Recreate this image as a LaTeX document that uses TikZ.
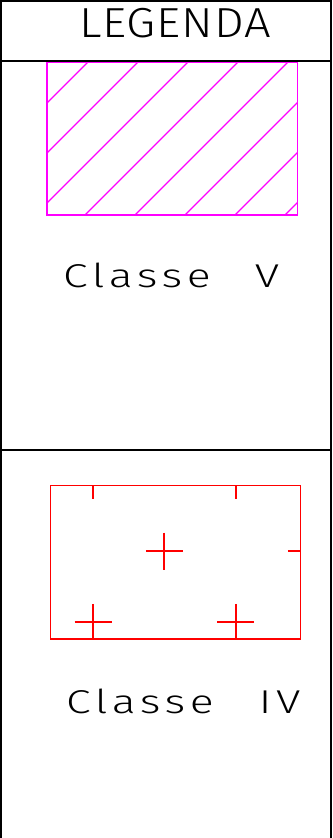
\documentclass[tikz,border=0pt]{standalone}
\usepackage{fontspec}
\newfontfamily\cadfont{Fira Sans Light}[FakeStretch=1.35]
\newfontfamily\cadtitlefont{Fira Sans Light}[FakeStretch=1.12]
\usepackage{tikz}
\usetikzlibrary{positioning,calc}
\definecolor{cadMagenta}{RGB}{255,0,255}
\definecolor{cadRed}{RGB}{255,0,0}

\begin{document}
\begin{tikzpicture}[x=1pt, y=-1pt,
    framestroke/.style={line width=1.6pt},
    cadtext/.style={font=\cadfont\addfontfeature{LetterSpace=14}\fontsize{33}{33}\selectfont, inner sep=0pt, anchor=base west},
    hatchstroke/.style={line width=1.3pt}]
    \useasboundingbox (0,0) rectangle (332,838);

    % Classe V: magenta hatch
    \begin{scope}
        \clip (47,62) rectangle (297.5,215);
        \foreach \c in {150,200,...,500}
            \draw[hatchstroke, draw=cadMagenta] (\c-250,250) -- (\c,0);
    \end{scope}
    \draw[hatchstroke, draw=cadMagenta] (47,62) rectangle (297.5,215);

    % Classe IV: red crosses
    \begin{scope}
        \clip (50.7,485.7) rectangle (300.7,639);
        \foreach \x/\y in {93/480, 235.7/480, 164.3/551, 306.3/551, 93/622.3, 235.7/622.3}
            \draw[hatchstroke, line width=1.7pt, draw=cadRed] (\x-18.5,\y) -- (\x+18.5,\y) (\x,\y-18.5) -- (\x,\y+18.5);
    \end{scope}
    \draw[hatchstroke, line width=1.5pt, draw=cadRed] (50.7,485.7) rectangle (300.7,639);

    % Frame
    \draw[framestroke] (1,838) -- (1,1) -- (331,1) -- (331,838);
    \draw[framestroke] (1,61) -- (331,61);
    \draw[framestroke] (1,450) -- (331,450);

    % Labels
    \node[cadtext, font=\cadtitlefont\addfontfeature{LetterSpace=2}\fontsize{42}{42}\selectfont] (title) at (79,37) {LEGENDA};
    \node[cadtext] (classV) at (63,287) {Classe\hspace{44pt}V};
    \node[cadtext] (classIV) at (66,713) {Classe\hspace{45pt}IV};
\end{tikzpicture}
\end{document}
